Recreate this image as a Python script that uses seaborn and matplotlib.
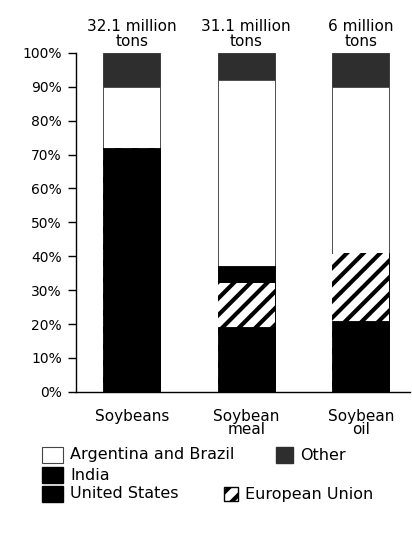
import numpy as np
import matplotlib
matplotlib.use("Agg")
import matplotlib.pyplot as plt
from matplotlib.patches import Rectangle
import seaborn as sns

# --- data (percent shares, bottom -> top) ---
products = ["Soybeans", "Soybean\nmeal", "Soybean\noil"]
totals = ["32.1 million\ntons", "31.1 million\ntons", "6 million\ntons"]
united_states = [72, 19, 21]
european_union = [0, 13, 20]
india = [0, 5, 0]
argentina_brazil = [18, 55, 49]
other = [10, 8, 10]
yticks = list(range(0, 101, 10))

sns.set_style("ticks")
plt.rcParams["font.family"] = ["DejaVu Sans"]
plt.rcParams["hatch.linewidth"] = 3.0
for k in ["text.color", "xtick.color", "ytick.color", "axes.edgecolor",
          "xtick.labelcolor", "ytick.labelcolor"]:
    plt.rcParams[k] = "black"

fig = plt.figure(figsize=(4.12, 5.39), dpi=100)
ax = fig.add_axes([0.184, 0.273, 0.811, 0.629])

layers = [
    ("United States", united_states, dict(color="black", edgecolor="black", linewidth=0.6)),
    ("European Union", european_union, dict(color="white", edgecolor="black", linewidth=0, hatch="//")),
    ("India", india, dict(color="black", edgecolor="black", linewidth=0.6)),
    ("Argentina and Brazil", argentina_brazil, dict(color="white", edgecolor="#444444", linewidth=0.6)),
    ("Other", other, dict(color="#2e2e2e", edgecolor="#2e2e2e", linewidth=0.6)),
]

# cumulative tops, draw tallest first so lower layers cover it
tops = np.cumsum([np.array(v) for _, v, _ in layers], axis=0)
for (name, vals, style), top in reversed(list(zip(layers, tops))):
    sns.barplot(x=products, y=top, order=products, width=0.5, saturation=1,
                ax=ax, **style)

ax.set_xlim(-0.49, 2.43)
ax.set_ylim(0, 100)
ax.set_yticks(yticks)
ax.set_yticklabels([f"{v}%" for v in yticks], fontsize=10)
ax.tick_params(axis="y", length=6, width=1, pad=4)
ax.tick_params(axis="x", length=0, pad=12, labelsize=11)
for lbl in ax.get_xticklabels():
    lbl.set_linespacing(0.85)
ax.set_xlabel("")
ax.set_ylabel("")
sns.despine(ax=ax)
ax.spines["left"].set_linewidth(1)
ax.spines["bottom"].set_linewidth(1)

for i, t in enumerate(totals):
    ax.annotate(t, xy=(i, 100), xytext=(0, 3), textcoords="offset points",
                ha="center", va="bottom", fontsize=11, linespacing=0.95)

# --- legend drawn in figure pixels ---
W, H = 412, 539
def key(x, y, w, h, label, **kw):
    fig.patches.append(Rectangle((x / W, 1 - (y + h / 2) / H), w / W, h / H,
                                 transform=fig.transFigure, **kw))
    fig.text((x + w + 7) / W, 1 - y / H, label, va="center", ha="left", fontsize=11.5)

key(42, 455, 21, 16, "Argentina and Brazil", facecolor="white", edgecolor="#444444", linewidth=0.8)
key(42, 475, 21, 16, "India", facecolor="black", edgecolor="black")
key(42, 494, 21, 16, "United States", facecolor="black", edgecolor="black")
key(276, 455, 17, 16, "Other", facecolor="#2e2e2e", edgecolor="#2e2e2e")
key(224, 494, 14, 14, "European Union", facecolor="white", edgecolor="black", linewidth=1, hatch="//")

fig.savefig("out.png", dpi=100)
